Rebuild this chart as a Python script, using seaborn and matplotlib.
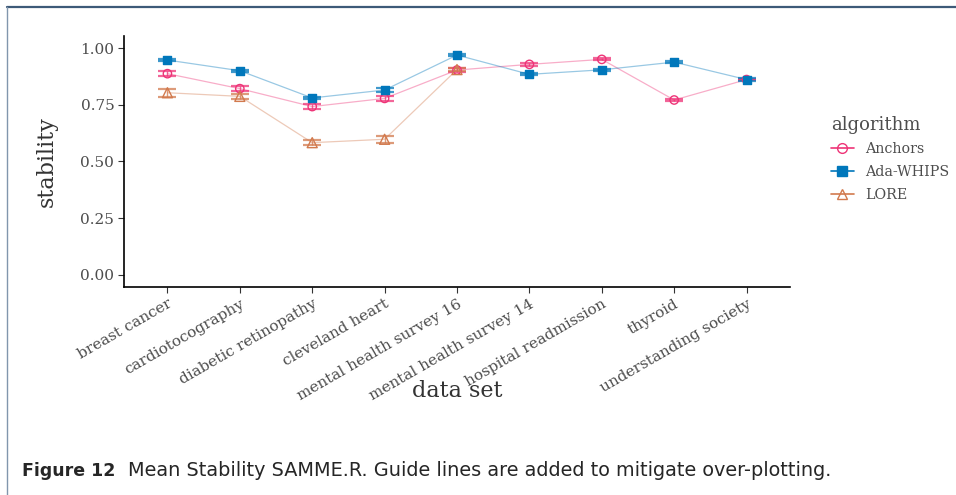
import numpy as np
import pandas as pd
from matplotlib import pyplot as plt
from matplotlib.lines import Line2D
import seaborn as sns

# ---- data ----
datasets = ["breast cancer", "cardiotocography", "diabetic retinopathy",
            "cleveland heart", "mental health survey 16", "mental health survey 14",
            "hospital readmission", "thyroid", "understanding society"]
algorithms = ["Anchors", "Ada-WHIPS", "LORE"]

anchors_mean = [0.887, 0.821, 0.742, 0.778, 0.903, 0.928, 0.950, 0.771, 0.861]
anchors_err = [0.010, 0.012, 0.010, 0.012, 0.008, 0.005, 0.004, 0.006, 0.004]
ada_mean = [0.947, 0.900, 0.780, 0.815, 0.969, 0.884, 0.904, 0.938, 0.861]
ada_err = [0.005, 0.005, 0.006, 0.007, 0.005, 0.005, 0.005, 0.005, 0.005]
lore_mean = [0.803, 0.787, 0.583, 0.598, 0.905]
lore_err = [0.018, 0.010, 0.010, 0.016, 0.008]

colors = {"Anchors": "#EE3377", "Ada-WHIPS": "#0077BB", "LORE": "#D27A4E"}
markers = {"Anchors": "o", "Ada-WHIPS": "s", "LORE": "^"}
filled = {"Anchors": False, "Ada-WHIPS": True, "LORE": False}

rows = []
for alg, means, errs in [("Anchors", anchors_mean, anchors_err),
                         ("Ada-WHIPS", ada_mean, ada_err),
                         ("LORE", lore_mean, lore_err)]:
    for i, (m, e) in enumerate(zip(means, errs)):
        rows.append({"algorithm": alg, "data set": datasets[i], "pos": i,
                     "stability": m, "err": e})
df = pd.DataFrame(rows)

# ---- style ----
sns.set_style("ticks")
plt.rcParams["font.family"] = ["DejaVu Serif"]

fig = plt.figure(figsize=(9.56, 4.95), dpi=100)
ax = fig.add_axes([124 / 956, 1 - 287 / 495, (790 - 124) / 956, (287 - 36) / 495])

# guide lines
sns.lineplot(data=df, x="pos", y="stability", hue="algorithm", hue_order=algorithms,
             palette=colors, linewidth=0.9, alpha=0.4, legend=False, ax=ax,
             estimator=None, sort=True)

# error bars (horizontal caps) and markers
for alg in algorithms:
    sub = df[df["algorithm"] == alg]
    c = colors[alg]
    ax.errorbar(sub["pos"], sub["stability"], yerr=sub["err"], fmt="none",
                ecolor=c, elinewidth=1.0, capsize=6.5, capthick=1.6, alpha=0.75, zorder=3)
    sns.scatterplot(data=sub, x="pos", y="stability", marker=markers[alg],
                    s={"Anchors": 36, "Ada-WHIPS": 36, "LORE": 52}[alg],
                    facecolor=c if filled[alg] else "none",
                    edgecolor=c, linewidth=1.0, ax=ax, zorder=4, legend=False)

ax.set_xlim(-0.6, 8.6)
ax.set_ylim(-0.053, 1.053)
ax.set_xticks(range(len(datasets)))
ax.set_xticklabels(datasets, rotation=30, ha="right", rotation_mode="anchor",
                   fontsize=11, color="#4d4d4d")
ax.set_yticks([0, 0.25, 0.5, 0.75, 1.0])
ax.set_yticklabels(["0.00", "0.25", "0.50", "0.75", "1.00"], fontsize=11, color="#4d4d4d")
ax.tick_params(axis="both", length=4, width=0.8, color="#333333", pad=3)
sns.despine(ax=ax)
for s in ["left", "bottom"]:
    ax.spines[s].set_linewidth(1.2)
    ax.spines[s].set_color("black")
ax.set_xlabel("data set", fontsize=16, color="#333333", labelpad=-16)
ax.set_ylabel("stability", fontsize=16, color="#333333", labelpad=16)

# legend
handles = [Line2D([0], [0], color=colors[a], marker=markers[a], markersize=7,
                  markerfacecolor=colors[a] if filled[a] else "none",
                  markeredgecolor=colors[a], linewidth=1.2) for a in algorithms]
leg = fig.legend(handles, algorithms, title="algorithm", loc="upper left",
                 bbox_to_anchor=(818 / 956, 1 - 103 / 495), frameon=False,
                 fontsize=10.3, title_fontsize=13, handlelength=1.6,
                 labelspacing=0.6, alignment="left")
for t in leg.get_texts():
    t.set_color("#4d4d4d")
leg.get_title().set_color("#4d4d4d")

# page frame and caption
fig.add_artist(Line2D([7 / 956, 1], [1 - 7 / 495, 1 - 7 / 495], color="#3d5a78",
                      linewidth=1.6, transform=fig.transFigure))
fig.add_artist(Line2D([7 / 956, 7 / 956], [0, 1 - 7 / 495], color="#8196ad",
                      linewidth=1.0, transform=fig.transFigure))
fig.text(22 / 956, 1 - 471 / 495, "Figure 12", fontsize=12.5, fontweight="bold",
         family=["DejaVu Sans"], va="center", ha="left")
fig.text(128 / 956, 1 - 471 / 495,
         "Mean Stability SAMME.R. Guide lines are added to mitigate over-plotting.",
         fontsize=13.9, family=["DejaVu Sans"], va="center", ha="left")

plt.savefig("out.png", dpi=100)
